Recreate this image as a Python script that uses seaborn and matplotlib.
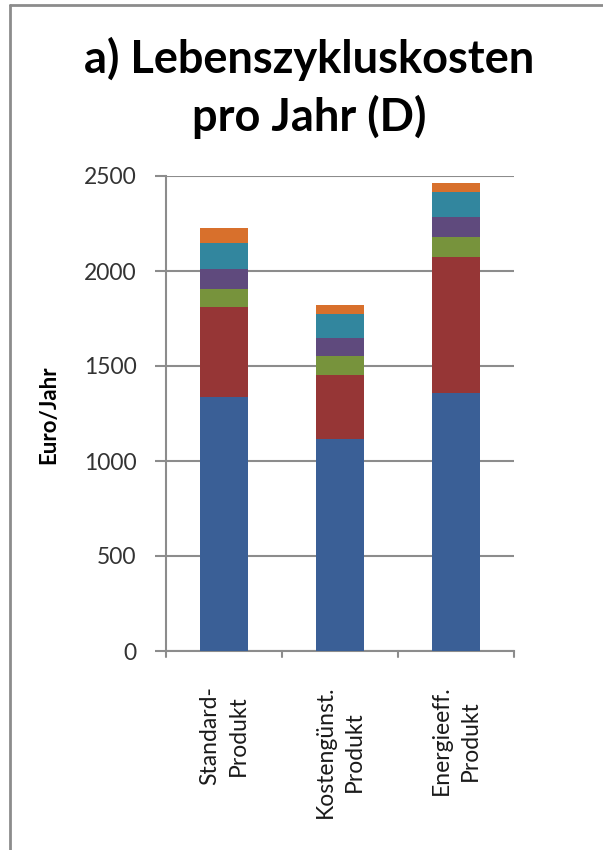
import numpy as np
import pandas as pd
import matplotlib
matplotlib.use("Agg")
import matplotlib.pyplot as plt
import seaborn as sns
from matplotlib.lines import Line2D

categories = ["Standard-\nProdukt", "Kostengünst.\nProdukt", "Energieeff.\nProdukt"]
components = ["K1", "K2", "K3", "K4", "K5", "K6"]
seg_blue = [1338, 1114, 1360]
seg_red = [470, 340, 712]
seg_green = [95, 99, 109]
seg_purple = [105, 93, 105]
seg_teal = [140, 129, 131]
seg_orange = [77, 46, 44]
colors = ["#3A5F96", "#963636", "#77933C", "#5F4A7D", "#32869E", "#D8702C"]
yticks = [0, 500, 1000, 1500, 2000, 2500]

sns.set_theme(style="white")
plt.rcParams["font.family"] = ["Lato", "DejaVu Sans"]

segments = [seg_blue, seg_red, seg_green, seg_purple, seg_teal, seg_orange]
rows = []
for comp, seg in zip(components, segments):
    for cat, v in zip(categories, seg):
        rows.append({"cat": cat, "comp": comp, "value": v})
df = pd.DataFrame(rows)
df["cum"] = df.groupby("cat", sort=False)["value"].cumsum()

fig = plt.figure(figsize=(6.03, 8.5), dpi=100)
ax = fig.add_axes([165.7 / 603, (850 - 651) / 850, (514 - 165.7) / 603, 475 / 850])

for comp, col in reversed(list(zip(components, colors))):
    sub = df[df["comp"] == comp]
    sns.barplot(data=sub, x="cat", y="cum", order=categories, color=col,
                saturation=1, width=0.41, ax=ax, zorder=3, linewidth=0)

ax.set_ylim(0, 2500)
ax.set_xlim(-0.5, 2.5)
ax.set_yticks(yticks)
ax.set_yticklabels([str(t) for t in yticks], fontsize=16.5, color="#333333")
ax.set_xticks([0, 1, 2])
ax.set_xticklabels(categories, rotation=90, fontsize=16.5, color="#1a1a1a",
                   ha="center", va="top", multialignment="center", linespacing=1.45)
ax.tick_params(axis="x", length=0, pad=25)
ax.tick_params(axis="y", length=8, width=1.5, color="#8C8C8C", pad=13, left=True)
for b in [-0.5, 0.5, 1.5, 2.5]:
    ax.plot([b, b], [0, -0.012], transform=ax.get_xaxis_transform(), clip_on=False,
            color="#8C8C8C", lw=1.5)
ax.grid(axis="y", color="#8C8C8C", lw=1.5, zorder=0)
ax.set_axisbelow(True)
for s in ["top", "right"]:
    ax.spines[s].set_visible(False)
for s in ["left", "bottom"]:
    ax.spines[s].set_color("#8C8C8C")
    ax.spines[s].set_linewidth(1.5)
ax.set_xlabel("")
ax.set_ylabel("")
fig.text(49 / 603, 1 - 415 / 850, "Euro/Jahr", rotation=90, ha="center", va="center",
         fontsize=16, fontweight="bold", color="black")

fig.text(309 / 603, 1 - 73 / 850, "a) Lebenszykluskosten", ha="center", va="baseline",
         fontsize=32.5, fontweight="bold", color="black")
fig.text(309 / 603, 1 - 131 / 850, "pro Jahr (D)", ha="center", va="baseline",
         fontsize=32.5, fontweight="bold", color="black")

fig.add_artist(Line2D([10 / 603, 10 / 603], [0, 1 - 5 / 850], transform=fig.transFigure,
                      color="#8C8C8C", lw=2))
fig.add_artist(Line2D([10 / 603, 1], [1 - 5 / 850, 1 - 5 / 850], transform=fig.transFigure,
                      color="#8C8C8C", lw=2))

fig.savefig("out.png", dpi=100)
